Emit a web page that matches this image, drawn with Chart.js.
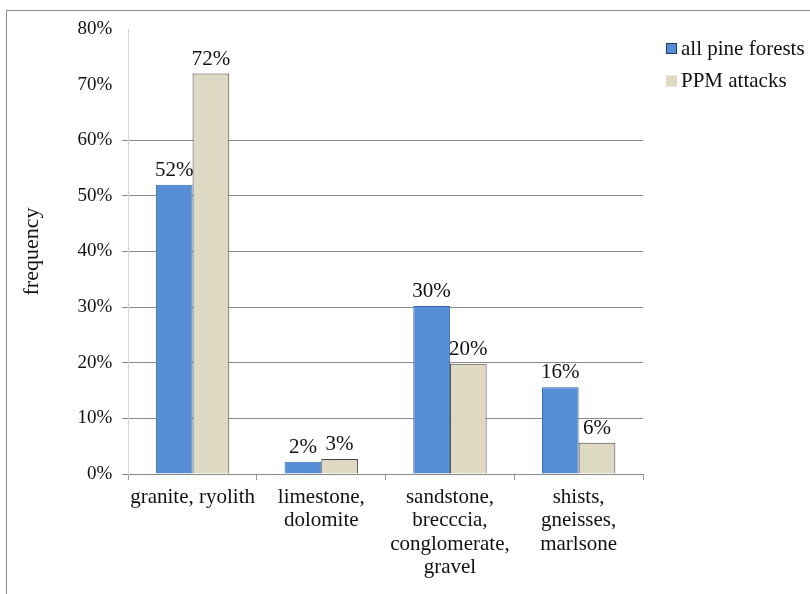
<!DOCTYPE html>
<html>
<head>
<meta charset="utf-8">
<script src="https://cdn.jsdelivr.net/npm/chart.js@4"></script>
<style>
  body { margin: 0; background: #fff; overflow: hidden; }
  #wrap { position: relative; width: 810px; height: 594px; }
  #frame { position: absolute; left: 6px; top: 10px; width: 900px; height: 700px; border-top: 1px solid #8a8a8a; border-left: 1px solid #8a8a8a; }
  canvas { position: absolute; left: 0; top: 0; }
</style>
</head>
<body>
<div id="wrap">
  <div id="frame"></div>
  <canvas id="myChart" width="810" height="594"></canvas>
</div>
<script>
const categories = [
  ['granite, ryolith'],
  ['limestone,', 'dolomite'],
  ['sandstone,', 'brecccia,', 'conglomerate,', 'gravel'],
  ['shists,', 'gneisses,', 'marlsone']
];
const allPineForests = [52, 2.2, 30.2, 15.6];
const ppmAttacks = [72, 2.7, 19.8, 5.6];
const seriesNames = ['all pine forests', 'PPM attacks'];

const serif = "'Liberation Serif', 'DejaVu Serif', serif";

// value labels above bars
const barLabels = {
  id: 'barLabels',
  afterDatasetsDraw(chart) {
    const ctx = chart.ctx;
    ctx.save();
    ctx.font = '21px ' + serif;
    ctx.fillStyle = '#111';
    ctx.textAlign = 'center';
    ctx.textBaseline = 'alphabetic';
    chart.data.datasets.forEach((ds, i) => {
      chart.getDatasetMeta(i).data.forEach((bar, j) => {
        ctx.fillText(Math.round(ds.data[j]) + '%', bar.x, bar.y - 9);
      });
    });
    ctx.restore();
  }
};

// legend drawn at the right, like the original
const sideLegend = {
  id: 'sideLegend',
  afterDraw(chart) {
    const ctx = chart.ctx;
    ctx.save();
    ctx.font = '21px ' + serif;
    ctx.textBaseline = 'middle';
    chart.data.datasets.forEach((ds, i) => {
      const y = 48 + i * 32.5;
      ctx.fillStyle = ds.backgroundColor;
      ctx.fillRect(666, y - 5, 11, 11);
      if (i === 0) {
        ctx.strokeStyle = '#1f3b66';
        ctx.lineWidth = 1;
        ctx.strokeRect(666.5, y - 4.5, 10, 10);
      }
      ctx.fillStyle = '#111';
      ctx.fillText(ds.label, 681, y + 1);
    });
    ctx.restore();
  }
};

new Chart(document.getElementById('myChart').getContext('2d'), {
  type: 'bar',
  data: {
    labels: categories,
    datasets: [{
      label: seriesNames[0],
      data: allPineForests,
      backgroundColor: '#558ed5',
      borderColor: '#3d6aa8',
      borderWidth: 1
    }, {
      label: seriesNames[1],
      data: ppmAttacks,
      backgroundColor: '#ddd9c3',
      borderColor: '#444',
      borderWidth: 1
    }]
  },
  options: {
    responsive: false,
    animation: false,
    layout: { padding: { left: 15, right: 167, top: 29, bottom: 2 } },
    plugins: {
      legend: { display: false },
      tooltip: { enabled: false }
    },
    datasets: { bar: { barPercentage: 1, categoryPercentage: 0.57 } },
    scales: {
      x: {
        afterFit: (scale) => { scale.height = 118; },
        grid: { drawOnChartArea: false, drawTicks: true, tickLength: 6, color: '#999' },
        border: { color: '#888' },
        ticks: { color: '#111', font: { family: serif, size: 21, lineHeight: 1.11 }, padding: 6, maxRotation: 0 }
      },
      y: {
        min: 0,
        max: 80,
        grid: {
          color: (c) => c.tick && c.tick.value > 60 ? 'rgba(0,0,0,0)' : '#8a8a8a',
          tickLength: 6
        },
        border: { color: '#d4d4d4' },
        ticks: {
          stepSize: 10,
          color: '#111',
          font: { family: serif, size: 19 },
          padding: 10,
          callback: (v) => v + '%'
        },
        title: { display: true, text: 'frequency', color: '#111', font: { family: serif, size: 22 }, padding: { bottom: 22 } }
      }
    }
  },
  plugins: [barLabels, sideLegend]
});
</script>
</body>
</html>
